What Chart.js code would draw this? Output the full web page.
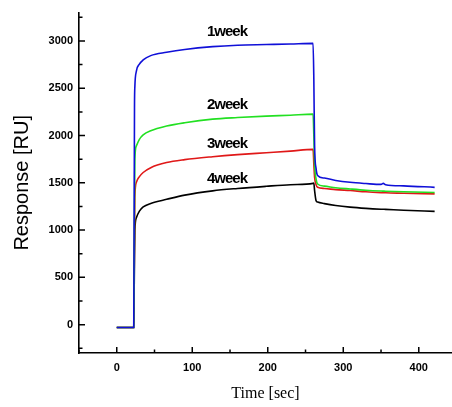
<!DOCTYPE HTML>
<html>
<head>
  <meta name='viewport' content='width=device-width, initial-scale=1'>
  <title>Response</title>
  <script src='https://cdn.jsdelivr.net/npm/chart.js'></script>
  <style>
    body { margin: 0; padding: 0; background-color: #fff; }
    .container { width: 452px; height: 407px; }
  </style>
</head>
<body>
  <div class='container'>
    <canvas id='spr'></canvas>
  </div>
  <script>
    // time axis shared by all sensorgrams (sec)
    var times = [0, 22.5, 23, 23.5, 24, 26, 30, 35, 45, 66, 90, 127, 160, 198, 230, 260, 261, 262, 264, 266, 275, 290, 309, 330, 350, 353, 356, 380, 421];
    var week1 = [-30, -30, 1000, 2300, 2520, 2680, 2755, 2800, 2845, 2880, 2910, 2940, 2955, 2962, 2968, 2975, 2600, 1900, 1650, 1578, 1550, 1525, 1505, 1492, 1483, 1494, 1480, 1468, 1452];
    var week2 = [-30, -30, 500, 1300, 1750, 1891, 1960, 2006, 2050, 2100, 2135, 2173, 2190, 2205, 2215, 2226, 2000, 1700, 1540, 1487, 1465, 1448, 1435, 1422, 1413, 1412, 1411, 1405, 1397];
    var week3 = [-30, -30, 400, 1000, 1350, 1505, 1565, 1609, 1660, 1714, 1745, 1776, 1798, 1818, 1835, 1853, 1700, 1560, 1480, 1452, 1440, 1428, 1418, 1405, 1396, 1395, 1394, 1390, 1383];
    var week4 = [-30, -30, 300, 700, 1000, 1130, 1200, 1245, 1282, 1325, 1370, 1415, 1440, 1463, 1480, 1494, 1497, 1420, 1310, 1296, 1280, 1260, 1243, 1230, 1221, 1220, 1219, 1210, 1198];

    var seriesNames = ['1week', '2week', '3week', '4week'];
    var seriesColors = ['#1010d8', '#22e022', '#e01818', '#000000'];
    var labelTimes = [146, 146, 146, 146];
    var labelValues = [3100, 2320, 1910, 1545];

    var xTicks = [0, 100, 200, 300, 400];
    var xMinor = [-50, 50, 150, 250, 350];
    var yTicks = [0, 500, 1000, 1500, 2000, 2500, 3000];
    var yMinor = [-250, 250, 750, 1250, 1750, 2250, 2750, 3250];

    function toPoints(vals) {
      return vals.map(function(v, i) { return {x: times[i], y: v}; });
    }

    var datasets = [week1, week2, week3, week4].map(function(vals, i) {
      return {
        label: seriesNames[i],
        data: toPoints(vals),
        showLine: true,
        borderColor: seriesColors[i],
        borderWidth: 1.6,
        pointRadius: 0,
        cubicInterpolationMode: 'monotone',
        fill: false
      };
    });

    // inward tick marks and the curve labels
    var decor = {
      id: 'decor',
      afterDraw: function(chart) {
        var c = chart.ctx, xs = chart.scales.x, ys = chart.scales.y;
        var a = chart.chartArea;
        c.save();
        c.strokeStyle = '#000';
        c.lineWidth = 1.5;
        c.beginPath();
        xTicks.concat(xMinor).forEach(function(v) {
          var len = xTicks.indexOf(v) >= 0 ? 6 : 3.5;
          var px = xs.getPixelForValue(v);
          c.moveTo(px, a.bottom); c.lineTo(px, a.bottom - len);
        });
        yTicks.concat(yMinor).forEach(function(v) {
          var len = yTicks.indexOf(v) >= 0 ? 6 : 3.5;
          var py = ys.getPixelForValue(v);
          c.moveTo(a.left, py); c.lineTo(a.left + len, py);
        });
        c.stroke();
        c.fillStyle = '#000';
        c.font = 'bold 15px Arial, "Liberation Sans", sans-serif';
        c.letterSpacing = '-1px';
        c.textAlign = 'center';
        c.textBaseline = 'middle';
        seriesNames.forEach(function(n, i) {
          c.fillText(n, xs.getPixelForValue(labelTimes[i]), ys.getPixelForValue(labelValues[i]));
        });
        c.restore();
      }
    };

    function plain(v) { return String(v); }

    var ctx = document.getElementById('spr').getContext('2d');
    var chart = new Chart(ctx, {
      type: 'scatter',
      data: { datasets: datasets },
      options: {
        responsive: true,
        maintainAspectRatio: false,
        animation: false,
        layout: { padding: { top: 8, right: 0, bottom: 0, left: 0 } },
        plugins: { legend: { display: false }, tooltip: { enabled: false } },
        scales: {
          x: {
            type: 'linear',
            min: -50,
            max: 444,
            afterBuildTicks: function(s) { s.ticks = xTicks.map(function(v) { return {value: v}; }); },
            afterFit: function(s) { s.height = 54; },
            grid: { display: false, drawTicks: false },
            border: { display: true, color: '#000', width: 1.6 },
            ticks: { color: '#000', padding: 8, maxRotation: 0, callback: plain, font: { family: 'Arial', size: 11, weight: 'bold' } },
            title: {
              display: true,
              text: 'Time [sec]',
              color: '#000',
              font: { family: '"Liberation Serif", "Times New Roman", serif', size: 16 },
              padding: { top: 0, bottom: 4 }
            }
          },
          y: {
            type: 'linear',
            min: -300,
            max: 3300,
            afterBuildTicks: function(s) { s.ticks = yTicks.map(function(v) { return {value: v}; }); },
            afterFit: function(s) { s.width = 79; },
            grid: { display: false, drawTicks: false },
            border: { display: true, color: '#000', width: 1.6 },
            ticks: { color: '#000', padding: 6, callback: plain, font: { family: 'Arial', size: 11, weight: 'bold' } },
            title: {
              display: true,
              text: 'Response [RU]',
              color: '#000',
              font: { family: 'Arial', size: 20, lineHeight: 1 },
              padding: { top: 12, bottom: 0 }
            }
          }
        }
      },
      plugins: [decor]
    });
  </script>
</body>
</html>
